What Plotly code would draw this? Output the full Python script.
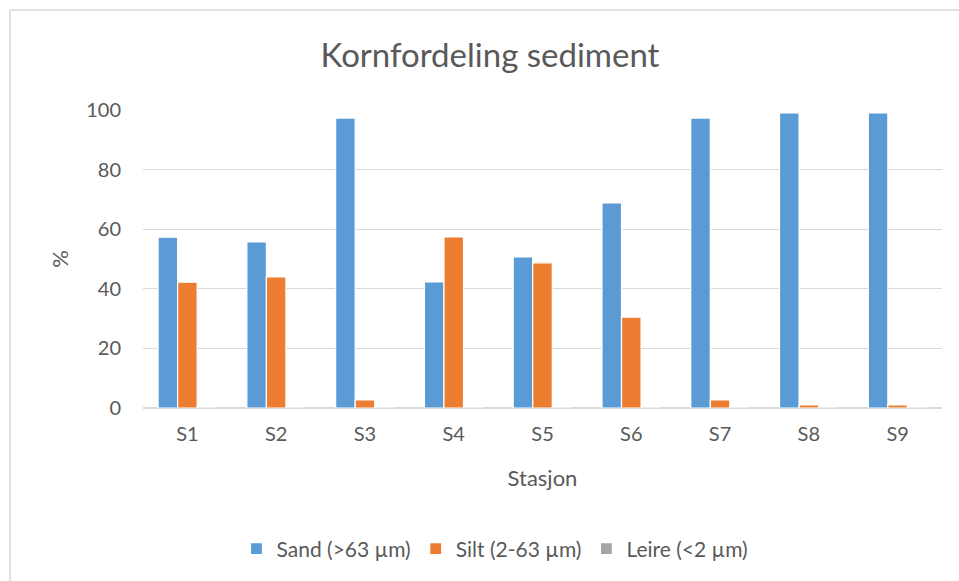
import plotly.graph_objects as go

# Grain size distribution per station (percent)
stations = ["S1", "S2", "S3", "S4", "S5", "S6", "S7", "S8", "S9"]
sand = [57.3, 55.7, 97.3, 42.3, 50.7, 68.8, 97.3, 99.0, 99.0]
silt = [42.2, 44.0, 2.7, 57.4, 48.7, 30.5, 2.7, 1.0, 1.0]
leire = [0, 0, 0, 0, 0, 0, 0, 0, 0]

series_names = ["Sand (>63 µm)", "Silt (2-63 µm)", "Leire (<2 µm)"]
series_colors = ["#5b9bd5", "#ed7d31", "#a5a5a5"]
y_ticks = [0, 20, 40, 60, 80, 100]

FONT = "Lato"
TEXT = "#595959"
GRID = "#d9d9d9"

fig = go.Figure()
for name, vals, col in zip(series_names, [sand, silt, leire], series_colors):
    fig.add_trace(go.Bar(
        x=stations, y=vals, name=name,
        marker=dict(color=col, line=dict(color="white", width=1.2)),
    ))

W, H = 959, 581
L, R, T, B = 143, 17, 110, 173
pw = W - L - R
ph = H - T - B

fig.update_layout(
    width=W, height=H,
    margin=dict(l=L, r=R, t=T, b=B),
    paper_bgcolor="white", plot_bgcolor="white",
    barmode="group", bargap=0.34, bargroupgap=0,
    font=dict(family=FONT, color=TEXT, size=16),
    title=dict(text="Kornfordeling sediment", x=(490 - L) / pw, xref="paper", xanchor="center",
               y=1 - 55 / H, yanchor="middle",
               font=dict(size=33, color=TEXT, family=FONT)),
    showlegend=True,
    legend=dict(orientation="h", x=(495 - L) / pw, xanchor="center",
                y=(408 - 549) / ph, yanchor="middle",
                font=dict(size=21, color=TEXT), itemwidth=30,
                traceorder="normal"),
    xaxis=dict(showgrid=False, showline=False, ticks="",
               tickfont=dict(size=20, color=TEXT), ticklabelstandoff=12,
               title=dict(text="Stasjon", font=dict(size=22, color=TEXT), standoff=26)),
    yaxis=dict(range=[0, 100], tickvals=y_ticks, showgrid=True, gridcolor=GRID, gridwidth=1.3,
               zeroline=True, zerolinecolor=GRID, zerolinewidth=1.8,
               showline=False, ticks="", ticklabelstandoff=21,
               tickfont=dict(size=20, color=TEXT),
               title=dict(text="%", font=dict(size=22, color=TEXT), standoff=11)),
    shapes=[dict(type="rect", xref="paper", yref="paper",
                 x0=(10 - L) / pw, x1=(W + 10 - L) / pw,
                 y0=(408 - (H + 20)) / ph, y1=(408 - 10) / ph,
                 line=dict(color=GRID, width=1.5), fillcolor="rgba(0,0,0,0)",
                 layer="below")],
)

fig.write_html("out.html")
